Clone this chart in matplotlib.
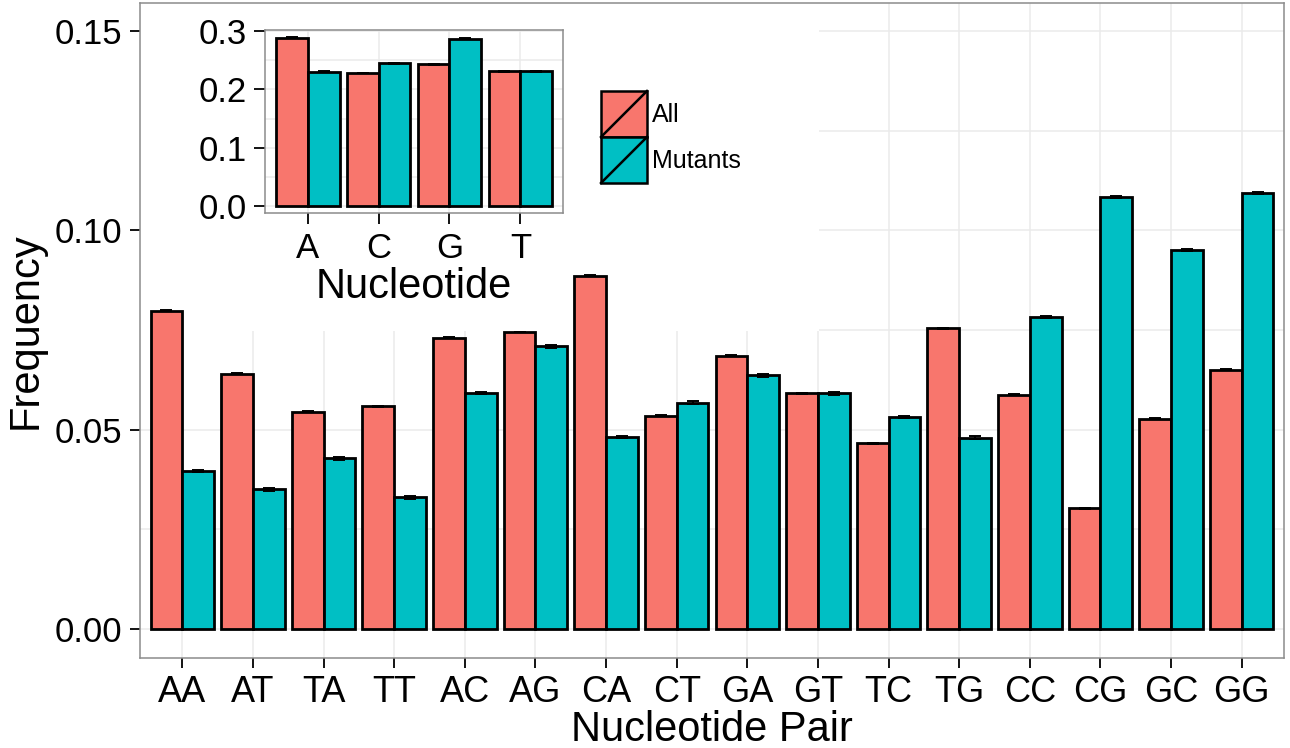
import numpy as np
import matplotlib
matplotlib.use("Agg")
import matplotlib.pyplot as plt
from matplotlib.patches import Rectangle, Patch
from matplotlib.lines import Line2D
from matplotlib.legend_handler import HandlerBase
from matplotlib.ticker import FixedLocator

plt.rcParams["font.family"] = ["Liberation Sans", "DejaVu Sans"]

# Dinucleotide frequencies
pairs = ["AA", "AT", "TA", "TT", "AC", "AG", "CA", "CT",
         "GA", "GT", "TC", "TG", "CC", "CG", "GC", "GG"]
pair_all = [0.0798, 0.0640, 0.0545, 0.0559, 0.0731, 0.0745, 0.0886, 0.0535,
            0.0685, 0.0591, 0.0466, 0.0754, 0.0588, 0.0303, 0.0527, 0.0650]
pair_mut = [0.0397, 0.0350, 0.0428, 0.0330, 0.0592, 0.0709, 0.0482, 0.0568,
            0.0636, 0.0591, 0.0532, 0.0480, 0.0783, 0.1083, 0.0951, 0.1094]
pair_all_err = [0.0001] * 16
pair_mut_err = [0.0003] * 16

# Single nucleotide frequencies
bases = ["A", "C", "G", "T"]
base_all = [0.2887, 0.2281, 0.2430, 0.2310]
base_mut = [0.2304, 0.2447, 0.2870, 0.2310]
base_all_err = [0.0005] * 4
base_mut_err = [0.0008] * 4

groups = ["All", "Mutants"]
colors = ["#F8766D", "#00BFC4"]

W, H = 1290, 748
fig = plt.figure(figsize=(W / 100, H / 100), dpi=100)


def fig_rect(x0, y0, x1, y1):
    return [x0 / W, 1 - y1 / H, (x1 - x0) / W, (y1 - y0) / H]


GRID = "#ebebeb"
BORDER = "#8c8c8c"
BAR_W = 0.45


def dodged_bars(ax, values_list, errs_list, capsize):
    n = len(values_list[0])
    x = np.arange(n)
    for k, (vals, errs) in enumerate(zip(values_list, errs_list)):
        pos = x + (k - 0.5) * BAR_W
        ax.bar(pos, vals, width=BAR_W, color=colors[k], edgecolor="black",
               linewidth=2.0, zorder=2)
        ax.errorbar(pos, vals, yerr=errs, fmt="none", ecolor="black",
                    elinewidth=1.4, capsize=capsize, capthick=1.4, zorder=3)
    return x


def style_axes(ax):
    ax.set_facecolor("white")
    for s in ax.spines.values():
        s.set_color(BORDER)
        s.set_linewidth(1.1)
    ax.set_axisbelow(True)
    ax.grid(True, which="major", color=GRID, linewidth=1.1)
    ax.grid(True, which="minor", axis="y", color=GRID, linewidth=1.1)
    ax.tick_params(which="minor", length=0)


# ---- main panel ----
ax = fig.add_axes(fig_rect(140, 3, 1284, 658))
style_axes(ax)
x = dodged_bars(ax, [pair_all, pair_mut], [pair_all_err, pair_mut_err], 4)
ax.set_xlim(-0.6, len(pairs) - 0.4)
ax.set_ylim(-0.00727, 0.157)
ax.set_xticks(x)
ax.set_xticklabels(pairs)
ax.yaxis.set_major_locator(FixedLocator([0.0, 0.05, 0.10, 0.15]))
ax.yaxis.set_minor_locator(FixedLocator([0.025, 0.075, 0.125]))
ax.set_yticklabels(["0.00", "0.05", "0.10", "0.15"])
ax.tick_params(axis="x", which="major", length=7, width=1.3, color="black",
               labelsize=26, pad=5)
ax.tick_params(axis="y", which="major", length=7, width=1.3, color="black",
               labelsize=25, pad=6)
ax.set_xlabel("Nucleotide Pair", fontsize=30, labelpad=0)
ax.set_ylabel("Frequency", fontsize=30, labelpad=6)

# blank area behind the inset hides the main grid there
ax.add_patch(Rectangle((0, (658 - 331) / 655), (819 - 140) / 1144, 1,
                       transform=ax.transAxes, facecolor="white",
                       edgecolor="none", zorder=1))

# ---- inset panel ----
ins = fig.add_axes(fig_rect(265, 30, 563, 213), zorder=5)
style_axes(ins)
xi = dodged_bars(ins, [base_all, base_mut], [base_all_err, base_mut_err], 4)
ins.set_xlim(-0.6, len(bases) - 0.4)
ins.set_ylim(-0.012, 0.3019)
ins.set_xticks(xi)
ins.set_xticklabels(bases)
ins.yaxis.set_major_locator(FixedLocator([0.0, 0.1, 0.2, 0.3]))
ins.yaxis.set_minor_locator(FixedLocator([0.05, 0.15, 0.25]))
ins.set_yticklabels(["0.0", "0.1", "0.2", "0.3"])
ins.tick_params(axis="x", which="major", length=8, width=1.3, color="black",
                labelsize=25, pad=6)
ins.tick_params(axis="y", which="major", length=8, width=1.3, color="black",
                labelsize=25, pad=5)
ins.set_xlabel("Nucleotide", fontsize=30, labelpad=1)


class SlashKey(HandlerBase):
    def create_artists(self, legend, orig_handle, xdescent, ydescent,
                       width, height, fontsize, trans):
        x0, y0 = -xdescent, -ydescent
        r = Rectangle((x0, y0), width, height,
                      facecolor=orig_handle.get_facecolor(),
                      edgecolor="black", linewidth=1.8, transform=trans)
        ln = Line2D([x0, x0 + width], [y0, y0 + height], color="black",
                    linewidth=1.8, transform=trans)
        return [r, ln]


handles = [Patch(facecolor=c) for c in colors]
fs = 18
fs_px = fs * 100 / 72
key_px = 46
# key height in a legend is fs*(0.65*handleheight + 0.245)
hh = (key_px / fs_px - 0.245) / 0.65
leg = fig.legend(handles, groups, loc="upper left",
                 bbox_to_anchor=(601 / W, 1 - 91 / H),
                 bbox_transform=fig.transFigure, frameon=False,
                 fontsize=fs, handlelength=key_px / fs_px,
                 handleheight=hh, labelspacing=0,
                 handletextpad=0.2, borderpad=0, borderaxespad=0,
                 handler_map={Patch: SlashKey()})
leg.set_zorder(6)

fig.savefig("out.png", dpi=100, facecolor="white")
